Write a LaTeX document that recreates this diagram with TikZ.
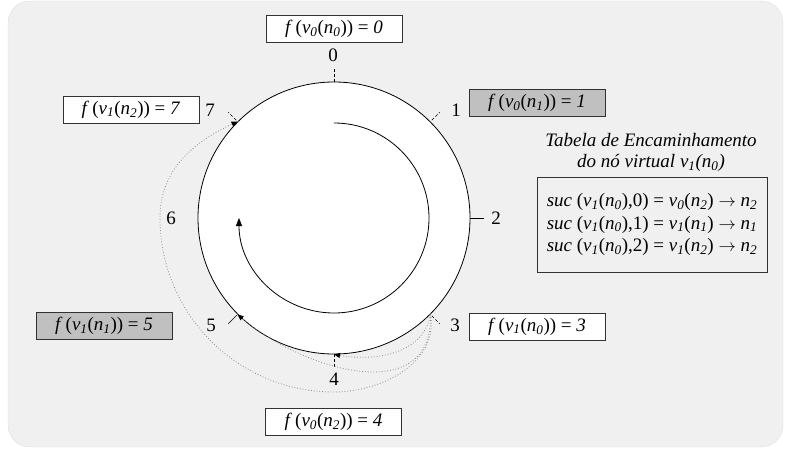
\documentclass[tikz,border=0pt]{standalone}
\usepackage{fontspec}
\setmainfont{Liberation Serif}
\usetikzlibrary{arrows.meta}
\definecolor{bg}{RGB}{240,240,240}
\definecolor{bgline}{RGB}{222,222,222}
\definecolor{boxgray}{RGB}{192,192,192}
\definecolor{edge}{RGB}{50,50,50}
\definecolor{dotc}{RGB}{140,140,140}
\newcommand{\vn}[2]{\textit{v}\textsubscript{\textit{#1}}(\textit{n}\textsubscript{\textit{#2}})}
\newcommand{\nn}[1]{\textit{n}\textsubscript{\textit{#1}}}
\newcommand{\fl}[3]{\textit{f}\,(\vn{#1}{#2}) = \textit{#3}}
\begin{document}
\begin{tikzpicture}[x=1pt,y=1pt,
  lbl/.style={draw=edge, line width=0.8pt, minimum width=136pt, minimum height=27pt, inner sep=0pt, font=\fontsize{19}{22}\selectfont},
  wbox/.style={lbl, fill=white},
  gbox/.style={lbl, fill=boxgray},
  num/.style={font=\fontsize{19}{22}\selectfont, inner sep=0pt},
  tick/.style={line width=0.7pt, dash pattern=on 3pt off 2pt},
  stick/.style={line width=0.7pt},
  link/.style={dotc, line width=0.8pt, dotted, -{Triangle[length=6pt,width=5pt,color=black]}},
]
\useasboundingbox (0,0) rectangle (785,451);
\fill[bg, draw=bgline, rounded corners=22pt] (8,4) rectangle (783,450);

% ring
\node[circle, draw, fill=white, minimum size=272pt, inner sep=0pt, line width=0.8pt] (ring) at (334,233) {};

% ticks
\draw[tick] (ring.90) -- ++(90:13);
\draw[tick] (ring.45) ++(45:2) -- ++(45:11);
\draw[stick] (ring.0) -- ++(0:14);
\draw[tick] (ring.-45) ++(-45:2) -- ++(-45:11);
\draw[tick] (ring.-90) -- ++(-90:14);
\draw[stick] (ring.225) ++(225:1) -- ++(225:12);
\draw[tick] (ring.135) ++(135:2) -- ++(135:11);

% position numbers
\node[num] (l0) at (333,396) {0};
\node[num] (l1) at (456,341) {1};
\node[num] (l2) at (496,233) {2};
\node[num] (l3) at (455,126) {3};
\node[num] (l4) at (334,72) {4};
\node[num] (l5) at (211,126) {5};
\node[num] (l6) at (171,233) {6};
\node[num] (l7) at (210,341) {7};

% inner direction arrow
\coordinate (sp) at (334,328);
\draw[line width=0.8pt, -{Triangle[length=8pt,width=6pt]}] (sp) arc[start angle=90, end angle=-180, radius=95];

% dotted jumps
\coordinate (q1) at (334,59);
\draw[link] (ring.-45) to[out=-100,in=-10,looseness=1.0] (ring.-90);
\draw[link] (ring.-45) to[out=-88,in=-40,looseness=1.22] (ring.225);
\draw[link] (ring.-45) to[out=-80,in=0] (q1) arc[start angle=270,end angle=180,radius=174] to[out=90,in=205] (ring.135);

% label boxes
\node[wbox] (b0) at (334,422.5) {\fl{0}{0}{0}};
\node[gbox] (b1) at (537,348) {\fl{0}{1}{1}};
\node[wbox] (b7) at (131,341.5) {\fl{1}{2}{7}};
\node[gbox] (b5) at (104,125) {\fl{1}{1}{5}};
\node[wbox] (b3) at (537,124.5) {\fl{1}{0}{3}};
\node[wbox] (b4) at (333.5,29.5) {\fl{0}{2}{4}};

% routing table
\node[align=center, inner sep=0pt, font=\fontsize{19}{21}\selectfont\itshape] (title) at (651,298.5)
  {Tabela de Encaminhamento\\do nó virtual \vn{1}{0}};
\node[draw=edge, line width=0.8pt, minimum width=230pt, minimum height=95pt, inner sep=0pt,
  align=left, font=\fontsize{19}{22.5}\selectfont] (tab) at (652,226.5)
  {\textit{suc} (\vn{1}{0},0) = \vn{0}{2} $\rightarrow$ \nn{2}\\
   \textit{suc} (\vn{1}{0},1) = \vn{1}{1} $\rightarrow$ \nn{1}\\
   \textit{suc} (\vn{1}{0},2) = \vn{1}{2} $\rightarrow$ \nn{2}};
\end{tikzpicture}
\end{document}
